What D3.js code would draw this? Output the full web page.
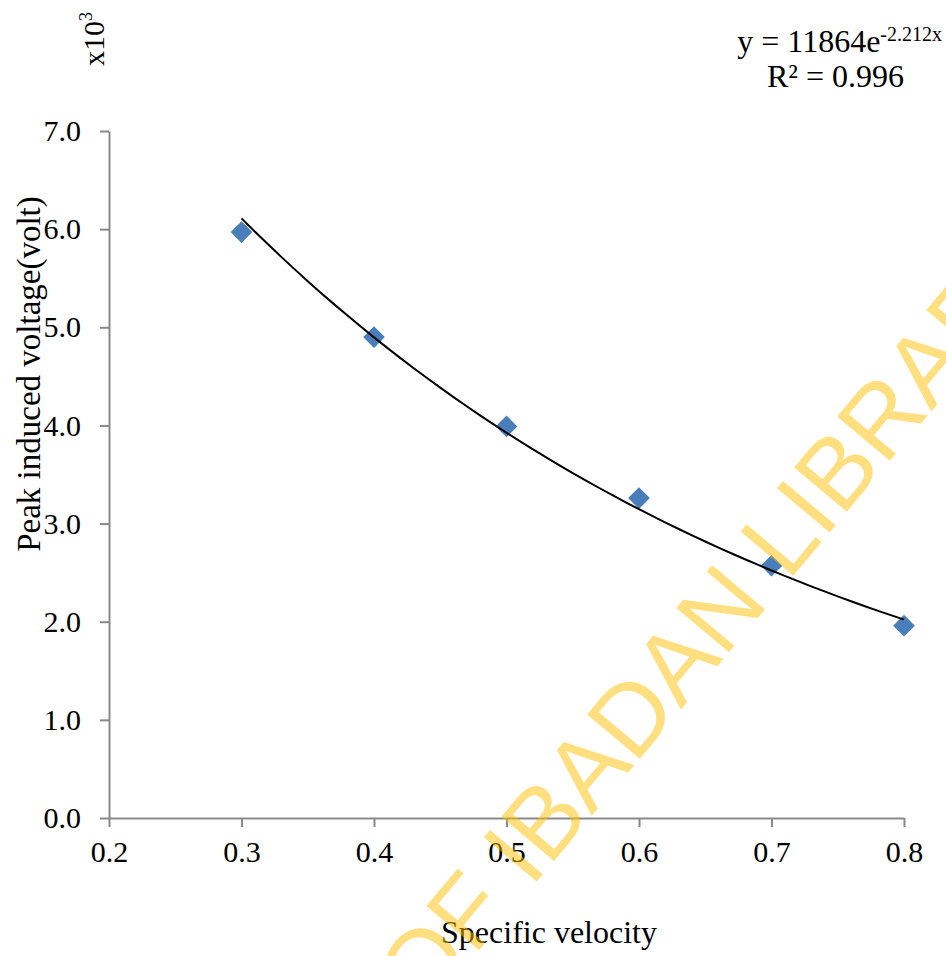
<!DOCTYPE html>
<html>
<head>
<meta charset="utf-8">
<script src="https://cdn.jsdelivr.net/npm/d3@7"></script>
<style>
  html, body { margin: 0; padding: 0; background: #fff; }
  svg { display: block; }
  text { font-family: "Liberation Serif", "Times New Roman", serif; }
</style>
</head>
<body>
<svg id="chart" width="946" height="956"></svg>
<script>
// Measured points: specific velocity vs peak induced voltage (in thousands of volts)
const specificVelocity = [0.3, 0.4, 0.5, 0.6, 0.7, 0.8];
const peakVoltage = [5.97, 4.90, 3.99, 3.26, 2.57, 1.96];

// Exponential trendline y = a·e^(b·x), in volts
const trendA = 11864;
const trendB = -2.212;
const trendR2 = 0.996;

const xTicks = [0.2, 0.3, 0.4, 0.5, 0.6, 0.7, 0.8];
const yTicks = [0, 1, 2, 3, 4, 5, 6, 7];

const svg = d3.select("#chart");
const W = 946, H = 956;
const margin = { left: 109, right: 42, top: 131, bottom: 138 };
const serif = '"Liberation Serif", "Times New Roman", serif';

const x = d3.scaleLinear().domain([0.2, 0.8]).range([margin.left, W - margin.right]);
const y = d3.scaleLinear().domain([0, 7]).range([H - margin.bottom, margin.top]);

const axisColor = "#898989";
const fmt = d3.format(".1f");

// Y axis
const yAxis = svg.append("g")
  .attr("transform", `translate(${x(0.2)},0)`)
  .call(d3.axisLeft(y).tickValues(yTicks).tickFormat(fmt).tickSizeInner(9).tickSizeOuter(0).tickPadding(19));
// X axis
const xAxis = svg.append("g")
  .attr("transform", `translate(0,${y(0)})`)
  .call(d3.axisBottom(x).tickValues(xTicks).tickFormat(fmt).tickSizeInner(9).tickSizeOuter(0).tickPadding(14));

[yAxis, xAxis].forEach(g => {
  g.select(".domain").attr("stroke", axisColor).attr("stroke-width", 2);
  g.selectAll(".tick line").attr("stroke", axisColor).attr("stroke-width", 2);
  g.selectAll(".tick text")
    .style("font-family", serif)
    .style("font-size", "30px")
    .style("fill", "#000");
});

// Markers
const diamond = d3.symbol().type(d3.symbolDiamond2).size(300);
svg.append("g")
  .selectAll("path")
  .data(specificVelocity.map((v, i) => ({ v, p: peakVoltage[i] })))
  .join("path")
  .attr("d", diamond)
  .attr("transform", d => `translate(${x(d.v)},${y(d.p)})`)
  .attr("fill", "#4A7EBB");

// Trendline from the fitted equation
const trendX = d3.range(0, 51).map(i => 0.3 + i * 0.01);
const line = d3.line()
  .x(d => x(d))
  .y(d => y(trendA * Math.exp(trendB * d) / 1000))
  .curve(d3.curveMonotoneX);
svg.append("path")
  .datum(trendX)
  .attr("d", line)
  .attr("fill", "none")
  .attr("stroke", "#000")
  .attr("stroke-width", 2);

// Axis titles
svg.append("text")
  .attr("x", 549).attr("y", 943)
  .attr("text-anchor", "middle")
  .style("font-size", "32px")
  .text("Specific velocity");

svg.append("text")
  .attr("transform", "translate(40,374) rotate(-90)")
  .attr("text-anchor", "middle")
  .style("font-size", "33px")
  .text("Peak induced voltage(volt)");

// Unit multiplier
const unit = svg.append("text")
  .attr("transform", "translate(104,39) rotate(-90)")
  .attr("text-anchor", "middle")
  .style("font-size", "30px");
unit.append("tspan").text("x10");
unit.append("tspan").attr("dy", -12).style("font-size", "18px").text("3");

// Trendline equation
const eq = svg.append("text")
  .attr("x", 942).attr("y", 52)
  .attr("text-anchor", "end")
  .style("font-size", "32px");
eq.append("tspan").text(`y = ${trendA}e`);
eq.append("tspan").attr("dy", -11).style("font-size", "20px").text(`${trendB}x`);

svg.append("text")
  .attr("x", 904).attr("y", 87)
  .attr("text-anchor", "end")
  .style("font-size", "32px")
  .text(`R² = ${trendR2}`);

// Library watermark
const wmText = "UNIVERSITY OF IBADAN LIBRARY";
const wm = svg.append("g")
  .attr("transform", "translate(788,582) rotate(-50)")
  .style("pointer-events", "none");
const wmNode = wm.append("text")
  .style("font-family", '"Liberation Sans", Arial, sans-serif')
  .style("font-size", "100px")
  .style("fill", "#FFC000")
  .style("fill-opacity", 0.5)
  .text(wmText);
const offset = wmNode.node().getSubStringLength(0, wmText.indexOf("LIBRARY"));
wmNode.attr("x", -offset);
</script>
</body>
</html>
